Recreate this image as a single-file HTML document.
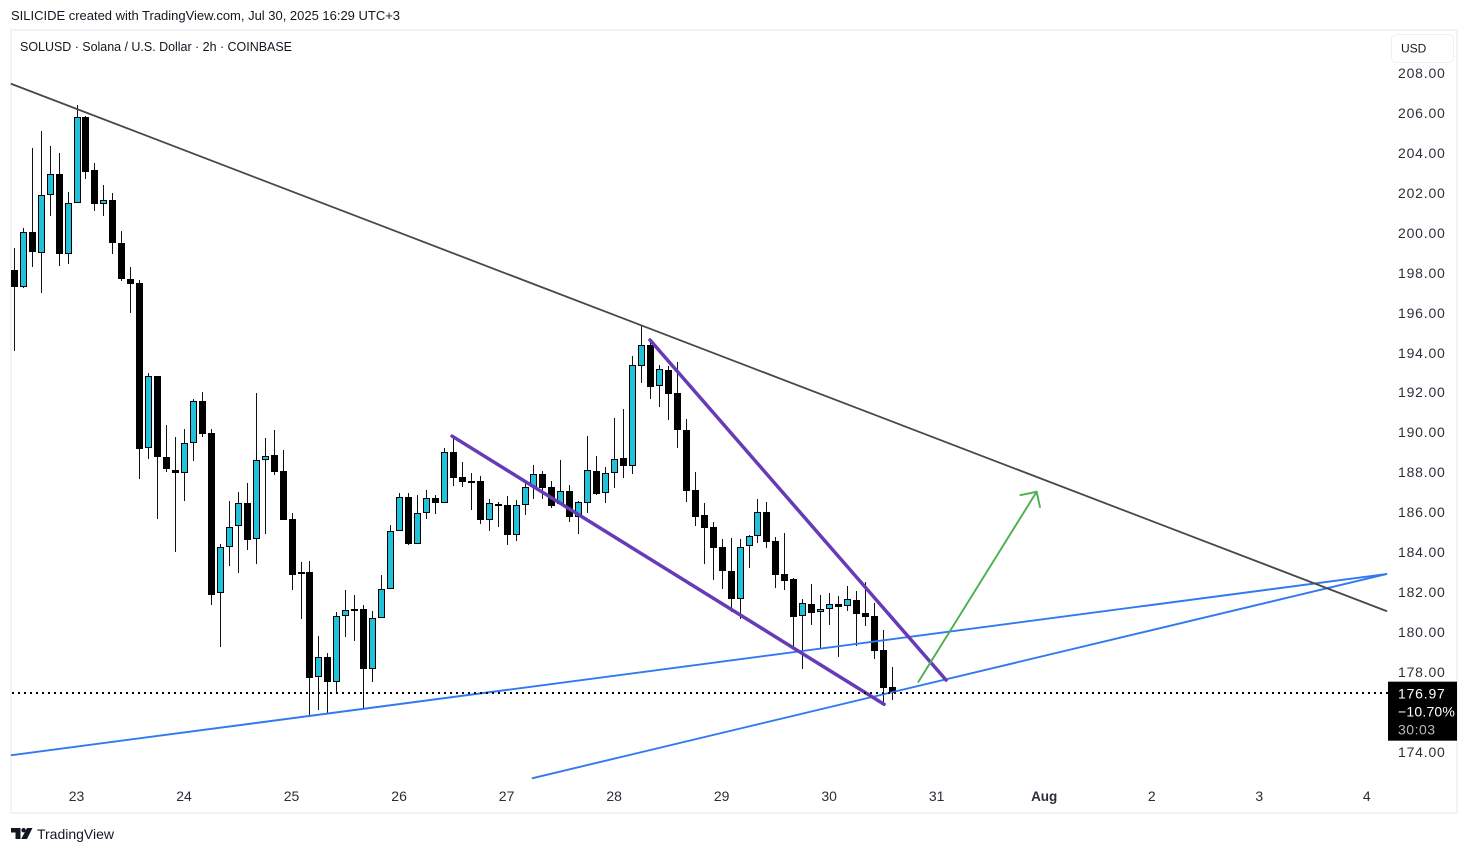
<!DOCTYPE html>
<html lang="en">
<head>
<meta charset="utf-8">
<title>SOLUSD 2h chart</title>
<style>
html,body{margin:0;padding:0;background:#fff;width:1468px;height:853px;overflow:hidden}
svg{display:block;font-family:"Liberation Sans",sans-serif}
</style>
</head>
<body>
<svg id="chart" xmlns="http://www.w3.org/2000/svg" width="1468" height="853" viewBox="0 0 1468 853">
  <rect x="0" y="0" width="1468" height="853" fill="#ffffff"/>
  <text x="11" y="20" font-size="13" fill="#131722" textLength="389" lengthAdjust="spacing">SILICIDE created with TradingView.com, Jul 30, 2025 16:29 UTC+3</text>
  <rect x="11" y="30" width="1446" height="783" fill="none" stroke="#f2f3f5" stroke-width="2"/>
  <text x="20" y="51" font-size="12.5" fill="#131722" textLength="272" lengthAdjust="spacing">SOLUSD · Solana / U.S. Dollar · 2h · COINBASE</text>
  <rect x="1391.5" y="34.5" width="62" height="28" rx="5" fill="#ffffff" stroke="#eff0f2"/>
  <text x="1401" y="52.5" font-size="12" fill="#131722">USD</text>
  <g id="candles"></g>
  <g id="drawings"></g>
  <g id="priceAxis"></g>
  <g id="timeAxis"></g>
  <g id="lastPrice"></g>
  <g>
    <polygon points="11,828 20.5,828 20.5,839 15.5,839 15.5,832.5 11,832.5" fill="#131722"/>
    <circle cx="23.6" cy="830.2" r="2.2" fill="#131722"/>
    <polygon points="27,828 32.5,828 27,839 21.2,839" fill="#131722"/>
    <text x="37" y="839" font-size="14" fill="#131722" textLength="77" lengthAdjust="spacing">TradingView</text>
  </g>
</svg>
<script>
const opens = [198.13,197.30,200.02,199.00,201.87,202.93,198.92,201.47,205.78,203.13,201.45,201.62,199.47,197.68,197.48,189.23,192.83,188.75,188.10,187.98,189.45,191.60,189.95,181.94,184.25,185.30,186.45,184.65,188.60,188.85,188.05,185.65,183.01,182.99,177.74,178.74,177.49,180.79,181.16,181.14,178.17,180.69,182.14,185.05,186.75,184.43,185.95,186.70,186.45,189.00,187.75,187.57,187.55,185.63,186.40,186.35,184.88,186.35,187.25,187.90,187.25,186.40,187.05,185.75,186.45,188.05,186.95,187.95,188.72,188.33,193.31,194.36,192.31,193.13,191.96,190.11,187.10,185.85,185.25,184.25,183.05,181.67,184.30,184.80,186.00,184.55,182.89,182.64,180.79,181.39,181.02,181.14,181.41,181.29,181.59,180.96,180.81,179.10,177.24];
const highs = [199.24,200.24,204.24,205.10,204.34,203.99,202.04,206.40,205.85,203.49,202.39,201.99,200.09,198.28,197.63,192.97,192.83,190.37,189.77,190.17,191.67,192.02,190.17,184.41,186.56,187.02,187.47,191.97,189.72,190.12,189.12,185.96,183.51,183.56,179.80,178.95,181.00,182.11,181.86,181.36,181.04,182.86,185.36,186.97,186.97,186.87,187.12,186.87,189.22,189.77,188.52,187.97,187.82,186.67,186.52,186.82,186.62,187.62,188.37,188.07,187.57,188.62,187.37,186.56,189.82,188.82,188.27,190.72,191.17,193.83,195.33,194.63,193.37,193.33,193.53,190.67,188.02,186.47,185.51,184.66,184.71,184.66,184.86,186.67,186.52,184.76,184.96,182.71,181.66,182.41,181.86,181.96,181.81,182.31,182.06,182.51,181.46,180.11,178.25];
const lows = [194.09,197.25,198.30,197.00,200.84,198.33,198.43,201.47,202.69,201.09,200.84,198.94,197.60,196.00,187.68,188.68,185.68,188.03,184.03,186.58,188.57,189.77,181.37,179.27,183.33,182.97,184.11,183.42,184.93,187.88,185.63,182.12,180.67,175.73,176.10,175.93,176.88,179.77,179.57,176.20,177.52,180.69,182.14,185.05,184.36,184.43,185.66,185.91,186.45,187.33,187.28,186.11,185.43,185.06,185.26,184.36,184.56,185.86,186.67,186.67,186.23,186.40,185.53,184.93,185.98,186.88,186.48,187.23,187.73,187.93,192.49,191.69,191.29,190.64,189.23,186.53,185.31,183.42,182.62,182.17,180.99,180.65,183.22,184.48,184.23,182.22,182.12,179.19,178.17,180.37,179.22,180.37,178.77,181.07,179.32,180.32,178.67,176.35,176.60];
const closes = [197.30,200.02,199.05,201.87,202.93,198.95,201.47,205.78,203.06,201.45,201.62,199.50,197.70,197.43,189.18,192.81,188.78,188.18,187.98,189.45,191.60,189.94,181.87,184.25,185.25,186.45,184.63,188.60,188.80,188.03,185.63,182.87,182.92,177.72,178.74,177.49,180.79,181.09,181.07,178.17,180.69,182.14,185.05,186.75,184.43,185.95,186.70,186.45,189.00,187.73,187.53,187.52,185.63,186.45,186.31,184.88,186.35,187.25,187.90,187.23,186.33,187.05,185.78,186.50,188.10,186.93,187.95,188.65,188.33,193.36,194.36,192.29,193.16,191.94,190.14,187.08,185.78,185.23,184.23,183.07,181.67,184.28,184.80,186.00,184.53,182.87,182.57,180.77,181.44,180.97,181.14,181.39,181.27,181.64,180.92,180.77,179.07,177.20,176.97];

const priceTicks = [208,206,204,202,200,198,196,194,192,190,188,186,184,182,180,178,174];
const dateLabels = ["23","24","25","26","27","28","29","30","31","Aug","2","3","4"];
const firstDateBar = 7;
const barsPerDay = 12;
const lastPriceValue = 176.97;
const lastChangeText = "−10.70%";
const countdownText = "30:03";

const greyTrendBars = [-0.3,153.13];
const greyTrendPrices = [207.45,181.06];
const wedgeLowerBars = [48.85,97.07];
const wedgeLowerPrices = [189.82,176.39];
const wedgeUpperBars = [70.95,104.0];
const wedgeUpperPrices = [194.63,177.6];
const blueLongBars = [-0.3,153.13];
const blueLongPrices = [173.84,182.91];
const blueSteepBars = [57.85,153.13];
const blueSteepPrices = [172.69,182.91];
const arrowBars = [100.9,114.1];
const arrowPrices = [177.51,187.03];

const NS = "http://www.w3.org/2000/svg";
function xScale(i){return 14.3 + 8.96*i;}
function yScale(p){return 73 + (208-p)*19.97;}
function make(tag,parent,attrs){
  const el = document.createElementNS(NS,tag);
  for(const k in attrs){el.setAttribute(k,attrs[k]);}
  parent.appendChild(el);
  return el;
}

const candleLayer = document.getElementById("candles");
for(let i=0;i<closes.length;i++){
  const wx = Math.floor(xScale(i));
  const up = closes[i] >= opens[i];
  const g = make("g",candleLayer,{});
  
  
  const yH = Math.round(yScale(highs[i]));
  const yL = Math.round(yScale(lows[i]));
  const wick = make("rect",g,{x:wx,y:yH,width:1,height:Math.max(1,yL-yH),fill:"#111111","shape-rendering":"crispEdges"});
  
  
  const top = Math.round(yScale(Math.max(opens[i],closes[i])));
  const bot = Math.round(yScale(Math.min(opens[i],closes[i])));
  const h = Math.max(2,bot-top);
  let body;
  if(up){
    body = make("rect",g,{x:wx-3+0.5,y:top+0.5,width:6,height:Math.max(1,h-1),fill:"#22c1d9",stroke:"#000000","stroke-width":1,"shape-rendering":"crispEdges"});
  }else{
    body = make("rect",g,{x:wx-3,y:top,width:7,height:h,fill:"#000000","shape-rendering":"crispEdges"});
  }
  
  
}

const drawLayer = document.getElementById("drawings");
function segment(bars,prices,color,width){
  return make("line",drawLayer,{x1:xScale(bars[0]),y1:yScale(prices[0]),x2:xScale(bars[1]),y2:yScale(prices[1]),stroke:color,"stroke-width":width,"stroke-linecap":"round"});
}
const blueLong = segment(blueLongBars,blueLongPrices,"#3079f0",1.9);


const blueSteep = segment(blueSteepBars,blueSteepPrices,"#3079f0",1.9);


const greyTrend = segment(greyTrendBars,greyTrendPrices,"#484848",1.8);


const wedgeLower = segment(wedgeLowerBars,wedgeLowerPrices,"#673ab7",3.5);


const wedgeUpper = segment(wedgeUpperBars,wedgeUpperPrices,"#673ab7",3.5);


const arrowShaft = segment(arrowBars,arrowPrices,"#4caf50",1.9);


const tipX = xScale(arrowBars[1]);
const tipY = yScale(arrowPrices[1]);
const arrowHead = make("polyline",drawLayer,{points:(tipX-17)+","+(tipY+3.5)+" "+tipX+","+tipY+" "+(tipX+3.5)+","+(tipY+16),fill:"none",stroke:"#4caf50","stroke-width":1.9});



const priceLayer = document.getElementById("priceAxis");
for(const p of priceTicks){
  const t = make("text",priceLayer,{x:1398,y:Math.floor(yScale(p)+0.45)+5,"font-size":14,"letter-spacing":0.8,fill:"#2a2e39"});
  t.textContent = p.toFixed(2);
  
  
}

const timeLayer = document.getElementById("timeAxis");
dateLabels.forEach(function(label,k){
  const isMonth = label === "Aug";
  const t = make("text",timeLayer,{x:xScale(firstDateBar+k*barsPerDay)-0.5,y:801,"font-size":isMonth?13.5:14,"font-weight":isMonth?"bold":"normal","text-anchor":"middle",fill:"#2a2e39"});
  t.textContent = label;
  
  
});

const lastLayer = document.getElementById("lastPrice");
const lastY = yScale(lastPriceValue);
const dotted = make("line",lastLayer,{x1:12,y1:lastY+0.3,x2:1388,y2:lastY+0.3,stroke:"#000000","stroke-width":2,"stroke-dasharray":"2 4"});


const badge = make("rect",lastLayer,{x:1388,y:lastY-11,width:69,height:59,fill:"#000000"});


const priceText = make("text",lastLayer,{x:1398,y:lastY+6,"font-size":14,"letter-spacing":0.8,fill:"#ffffff"});
priceText.textContent = lastPriceValue.toFixed(2);


const changeText = make("text",lastLayer,{x:1398,y:lastY+24,"font-size":14,"letter-spacing":0.2,fill:"#ffffff"});
changeText.textContent = lastChangeText;


const timerText = make("text",lastLayer,{x:1398,y:lastY+42,"font-size":14,"letter-spacing":0.5,fill:"#b8b8b8"});
timerText.textContent = countdownText;


</script>
</body>
</html>
